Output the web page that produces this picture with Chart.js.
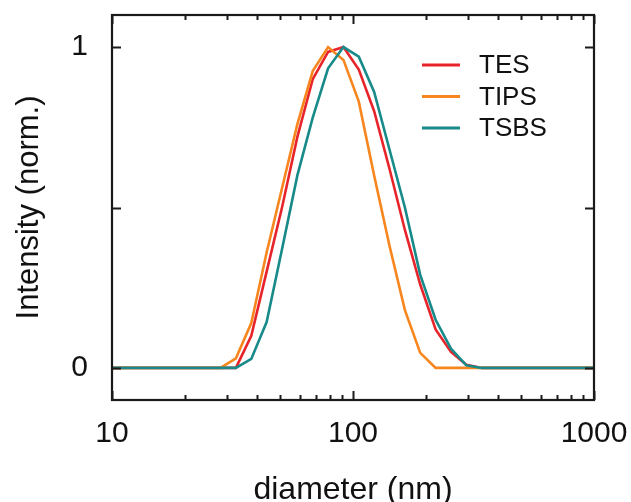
<!DOCTYPE html>
<html><head><meta charset="utf-8">
<script src="https://cdn.jsdelivr.net/npm/chart.js@4/dist/chart.umd.min.js"></script>
<style>html,body{margin:0;padding:0;background:#fff}</style>
</head><body>
<canvas id="c" width="631" height="502"></canvas>
<script>
// DLS size bins (nm)
const diameters = [8.721, 10.10, 11.70, 13.54, 15.69, 18.17, 21.04, 24.36, 28.21, 32.67, 37.84, 43.82, 50.75, 58.77, 68.06, 78.82, 91.28, 105.7, 122.4, 141.8, 164.2, 190.1, 220.2, 255.0, 295.3, 342.0, 396.1, 458.7, 531.2, 615.1, 712.4, 825.0, 955.4, 1106];
const tes  = [0,0,0,0,0,0,0,0,0,0, 0.10,0.30,0.50,0.72,0.90,0.985,1.0,0.93,0.80,0.62,0.43,0.26,0.12,0.05,0.01,0, 0,0,0,0,0,0,0,0];
const tips = [0,0,0,0,0,0,0,0,0, 0.03,0.14,0.36,0.56,0.76,0.925,1.0,0.96,0.83,0.60,0.38,0.18,0.047,0, 0,0,0,0,0,0,0,0,0,0,0];
const tsbs = [0,0,0,0,0,0,0,0,0,0, 0.028,0.143,0.37,0.60,0.78,0.934,1.0,0.97,0.86,0.68,0.50,0.29,0.15,0.06,0.008,0, 0,0,0,0,0,0,0,0];
const seriesNames = ['TES', 'TIPS', 'TSBS'];
const seriesColors = ['#e8242b', '#f7861f', '#178a89'];
const seriesOrder = [2, 1, 0];
const xMajorTicks = [10, 100, 1000];
const xMinorTicks = [20,30,40,50,60,70,80,90,200,300,400,500,600,700,800,900];
const yTickValues = [0, 0.5, 1];
const yTickLabels = {0: '0', 1: '1'};

const FONT = "'Liberation Sans', Arial, sans-serif";
const TXT = '#111';

const seriesValues = [tes, tips, tsbs];
const datasets = seriesNames.map((name, i) => ({
  label: name,
  data: diameters.map((d, j) => ({x: d, y: seriesValues[i][j]})),
  borderColor: seriesColors[i],
  backgroundColor: seriesColors[i],
  borderWidth: 2.6,
  pointRadius: 0,
  tension: 0,
  fill: false,
  order: seriesOrder[i]
}));

const framePlugin = {
  id: 'frame',
  afterDatasetsDraw(chart) {
    const {ctx, chartArea: a, scales: {x, y}} = chart;
    ctx.save();
    ctx.strokeStyle = '#1a1a1a';
    ctx.lineWidth = 2;
    ctx.beginPath();
    xMajorTicks.concat(xMinorTicks).forEach(v => {
      const px = Math.round(x.getPixelForValue(v)) + 0.5;
      const len = xMajorTicks.includes(v) ? 9 : 5;
      ctx.moveTo(px, a.bottom); ctx.lineTo(px, a.bottom - len);
      ctx.moveTo(px, a.top); ctx.lineTo(px, a.top + len);
    });
    yTickValues.forEach(v => {
      const py = Math.round(y.getPixelForValue(v)) + 0.5;
      ctx.moveTo(a.left, py); ctx.lineTo(a.left + 9, py);
      ctx.moveTo(a.right, py); ctx.lineTo(a.right - 9, py);
    });
    ctx.stroke();
    ctx.lineWidth = 2.2;
    ctx.strokeRect(a.left, a.top, a.right - a.left, a.bottom - a.top);
    // legend
    ctx.font = '26px ' + FONT;
    ctx.textBaseline = 'middle';
    ctx.textAlign = 'left';
    chart.data.datasets.forEach((ds, i) => {
      const ly = a.top + 50 + i * 31.5;
      ctx.strokeStyle = ds.borderColor;
      ctx.lineWidth = 3;
      ctx.beginPath();
      ctx.moveTo(a.right - 172, ly); ctx.lineTo(a.right - 134, ly);
      ctx.stroke();
      ctx.fillStyle = TXT;
      ctx.fillText(ds.label, a.right - 115, ly + 1);
    });
    ctx.restore();
  }
};

const noPad = s => { s.paddingTop = 0; s.paddingBottom = 0; s.paddingLeft = 0; s.paddingRight = 0; };

new Chart(document.getElementById('c'), {
  type: 'line',
  data: {datasets},
  options: {
    responsive: false,
    animation: false,
    layout: {padding: {top: 15, right: 37, left: 0, bottom: 0}},
    plugins: {legend: {display: false}, tooltip: {enabled: false}},
    scales: {
      x: {
        type: 'logarithmic', min: 10, max: 1000,
        grid: {display: false, drawTicks: false},
        border: {display: false},
        afterBuildTicks: s => { s.ticks = xMajorTicks.map(v => ({value: v})); },
        ticks: {autoSkip: false, maxRotation: 0, padding: 16, color: TXT,
          font: {family: FONT, size: 30},
          callback: v => String(v)},
        title: {display: true, text: 'diameter (nm)', color: TXT,
          font: {family: FONT, size: 32, lineHeight: 0.75}, padding: {top: 0, bottom: 0}},
        afterFit: s => { s.height = 102; noPad(s); }
      },
      y: {
        type: 'linear', min: -0.1, max: 1.1,
        grid: {display: false, drawTicks: false},
        border: {display: false},
        afterBuildTicks: s => { s.ticks = yTickValues.map(v => ({value: v})); },
        ticks: {padding: 24, color: TXT, font: {family: FONT, size: 30},
          callback: v => (yTickLabels[v] !== undefined ? yTickLabels[v] : '')},
        title: {display: true, text: 'Intensity (norm.)', color: TXT,
          font: {family: FONT, size: 31, lineHeight: 1}, padding: {top: 14, bottom: 0}},
        afterFit: s => { s.width = 112; noPad(s); }
      }
    }
  },
  plugins: [framePlugin]
});
</script>
</body></html>
